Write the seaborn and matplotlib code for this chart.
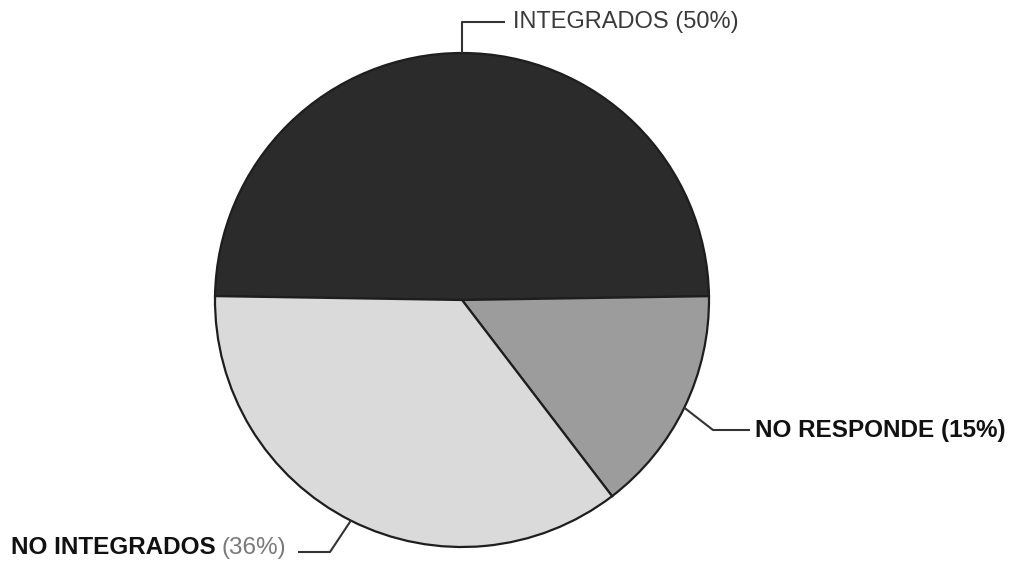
import numpy as np
import matplotlib
matplotlib.use("Agg")
import matplotlib.pyplot as plt
import seaborn as sns

# ── Data ─────────────────────────────────────────────────────────────────────
categories = ["INTEGRADOS", "NO RESPONDE", "NO INTEGRADOS"]
percents = [50, 15, 36]
colors = ["#2b2b2b", "#9c9c9c", "#dadada"]

sns.set_theme(style="white")
plt.rcParams["font.family"] = ["Liberation Sans", "DejaVu Sans"]

W, H = 1011, 566
fig = plt.figure(figsize=(W / 100, H / 100), dpi=100)
fig.patch.set_facecolor("white")

# pie centre (462, 300) px, radius 247 px
cx, cy, r = 462, 300, 247
ax = fig.add_axes([(cx - r) / W, (H - cy - r) / H, 2 * r / W, 2 * r / H])

wedges, _ = ax.pie(percents, colors=colors, startangle=179.1, counterclock=False,
                   radius=1.0,
                   wedgeprops=dict(edgecolor="#1e1e1e", linewidth=1.6))
ax.set_xlim(-1, 1)
ax.set_ylim(-1, 1)
ax.set_aspect("equal")
ax.axis("off")


def d(px, py):
    """pixel (from top-left) -> data coordinates"""
    return (px - cx) / r, (cy - py) / r


def anchor(w):
    ang = np.deg2rad((w.theta1 + w.theta2) / 2)
    return np.cos(ang), np.sin(ang)


line_kw = dict(color="#333333", lw=1.5, clip_on=False, solid_capstyle="butt")

# INTEGRADOS
x0, y0 = anchor(wedges[0])
ex, ey = d(465, 22)
fx, _ = d(505, 22)
ax.plot([x0, x0, fx], [y0, ey, ey], **line_kw)
ax.text(d(513, 0)[0], ey, f"{categories[0]} ({percents[0]}%)", fontsize=17,
        color="#3a3a3a", ha="left", va="center", clip_on=False)

# NO RESPONDE
x0, y0 = anchor(wedges[1])
ex, ey = d(713, 430)
fx, _ = d(750, 430)
ax.plot([x0, ex, fx], [y0, ey, ey], **line_kw)
ax.text(d(755, 0)[0], ey, f"{categories[1]} ({percents[1]}%)", fontsize=17.5,
        fontweight="bold", color="#111111", ha="left", va="center", clip_on=False)

# NO INTEGRADOS
x0, y0 = anchor(wedges[2])
ex, ey = d(330, 552)
fx, _ = d(298, 552)
ax.plot([x0, ex, fx], [y0, ey, ey], **line_kw)
t_pct = ax.text(d(286, 0)[0], d(0, 548)[1], f"({percents[2]}%)", fontsize=17.5,
                color="#7a7a7a", ha="right", va="center", clip_on=False)
fig.canvas.draw()
bb = t_pct.get_window_extent()
left_px = bb.x0 - 6
ax.text(d(left_px, 0)[0], d(0, 548)[1], categories[2], fontsize=17.5,
        fontweight="bold", color="#111111", ha="right", va="center", clip_on=False)

fig.savefig("out.png", dpi=100, facecolor="white")
